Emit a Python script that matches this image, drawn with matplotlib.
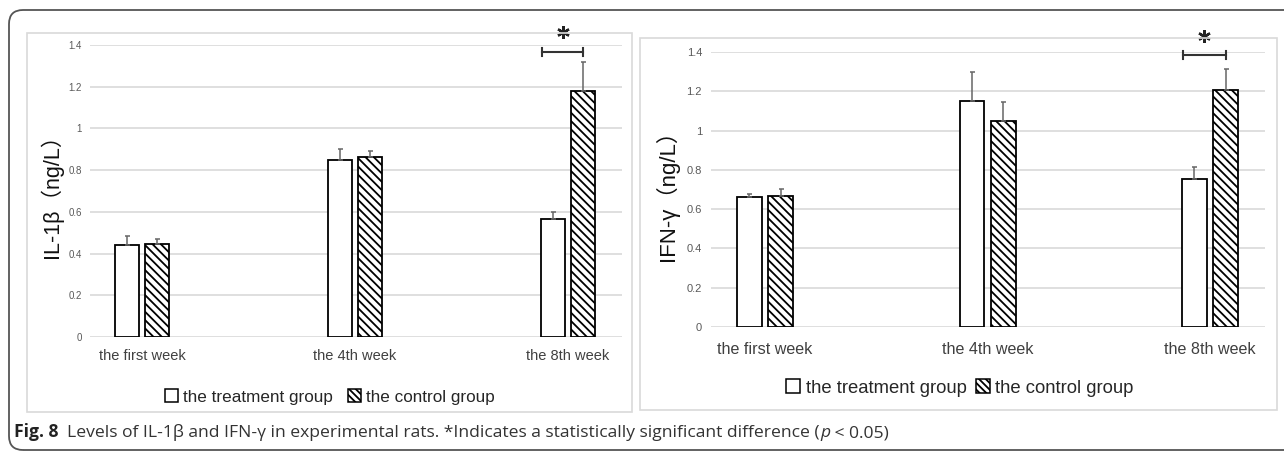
import matplotlib
matplotlib.use("Agg")
import matplotlib.pyplot as plt
from matplotlib.patches import Patch, Rectangle, FancyBboxPatch
from matplotlib.transforms import IdentityTransform
import numpy as np

W, H = 1284, 453

weeks = ['the first week', 'the 4th week', 'the 8th week']
yticks = [0, 0.2, 0.4, 0.6, 0.8, 1.0, 1.2, 1.4]
ytick_labels = ['0', '0.2', '0.4', '0.6', '0.8', '1', '1.2', '1.4']

il_treat = [0.44, 0.85, 0.565]
il_treat_err = [0.043, 0.052, 0.035]
il_ctrl = [0.445, 0.862, 1.178]
il_ctrl_err = [0.024, 0.03, 0.14]

ifn_treat = [0.662, 1.152, 0.755]
ifn_treat_err = [0.015, 0.147, 0.06]
ifn_ctrl = [0.667, 1.05, 1.207]
ifn_ctrl_err = [0.036, 0.097, 0.108]

plt.rcParams['font.family'] = ['Liberation Sans', 'Noto Sans CJK SC', 'DejaVu Sans']
plt.rcParams['hatch.linewidth'] = 1.3


def fx(x):
    return x / W


def fy(y):
    return 1 - y / H


def panel(rect, xlim, treat, terr, ctrl, cerr, ylabel, sizes, bracket_y):
    tick_size, cat_size, lab_size, cat_pad, tick_pad = sizes
    x0, ytop, x1, ybot = rect
    ax = fig.add_axes([fx(x0), fy(ybot), fx(x1 - x0), (ybot - ytop) / H])
    x = np.arange(len(weeks))
    w, off = 0.112, 0.07
    ax.bar(x - off, treat, w, color='white', edgecolor='black', linewidth=1.3, zorder=3)
    ax.bar(x + off, ctrl, w, color='white', edgecolor='black', linewidth=1.3,
           hatch='\\\\\\\\', zorder=3)
    for xs, v, e in [(x - off, treat, terr), (x + off, ctrl, cerr)]:
        ax.errorbar(xs, v, yerr=[np.zeros(len(e)), e], fmt='none', ecolor='#666666',
                    elinewidth=1.1, capsize=1.8, capthick=1.1, zorder=4)
    ax.set_xlim(*xlim)
    ax.set_ylim(0, 1.4)
    ax.set_yticks(yticks)
    ax.set_yticklabels(ytick_labels)
    ax.set_xticks(x)
    ax.set_xticklabels(weeks)
    ax.tick_params(axis='y', length=0, labelsize=tick_size, colors='#595959', pad=tick_pad)
    ax.tick_params(axis='x', length=0, labelsize=cat_size, colors='#404040', pad=cat_pad)
    ax.grid(axis='y', color='#d9d9d9', linewidth=1.2, zorder=0)
    ax.set_axisbelow(True)
    for s in ax.spines.values():
        s.set_visible(False)
    ax.set_ylabel(ylabel, fontsize=lab_size, color='#111111')
    # significance bracket over the 8th week pair
    bx0, bx1 = x[2] - off - 0.05, x[2] + off
    ax.plot([bx0, bx1], [bracket_y, bracket_y], color='#333333', lw=1.5, clip_on=False, zorder=5)
    for bx in (bx0, bx1):
        ax.plot([bx, bx], [bracket_y - 0.02, bracket_y + 0.02], color='#333333', lw=1.5,
                clip_on=False, zorder=5)
    ax.plot((bx0 + bx1) / 2, bracket_y + 0.095, marker=(6, 2, 0), markersize=9,
            markeredgewidth=1.7, color='#222222', clip_on=False, zorder=5)
    return ax


fig = plt.figure(figsize=(W / 100, H / 100), dpi=100)

# outer rounded frame and panel boxes
fig.patches.append(FancyBboxPatch((9, 3), 1330, 440, boxstyle='round,pad=0,rounding_size=14',
                                  transform=IdentityTransform(), fill=False,
                                  edgecolor='#555555', linewidth=1.3))
for bx0, by0, bx1, by1 in [(27, 33, 632, 412), (640, 38, 1277, 410)]:
    fig.patches.append(Rectangle((fx(bx0), fy(by1)), fx(bx1 - bx0), (by1 - by0) / H,
                                 transform=fig.transFigure, fill=False,
                                 edgecolor='#d9d9d9', linewidth=1.2))

ax1 = panel((90, 45, 622, 337), (-0.244, 2.254), il_treat, il_treat_err, il_ctrl, il_ctrl_err,
            'IL-1β（ng/L）', (7, 10.5, 15.5, 9, 6), 1.366)
ax1.yaxis.set_label_coords(-0.05, 0.5)
ax2 = panel((711, 52, 1265, 327), (-0.243, 2.247), ifn_treat, ifn_treat_err, ifn_ctrl,
            ifn_ctrl_err, 'IFN-γ（ng/L）', (8, 11.6, 16, 11, 6.5), 1.385)
ax2.yaxis.set_label_coords(-0.058, 0.5)

handles = [Patch(facecolor='white', edgecolor='black', linewidth=1.1),
           Patch(facecolor='white', edgecolor='black', linewidth=1.1, hatch='\\\\\\\\\\')]
names = ['the treatment group', 'the control group']
for cx, cy, size, colsp in [(330, 397, 12.3, 0.9), (960, 388, 13.3, 0.5)]:
    fig.legend(handles, names, loc='center', bbox_to_anchor=(fx(cx), fy(cy)), ncol=2,
               frameon=False, fontsize=size, handlelength=0.75, handleheight=0.75,
               handletextpad=0.3, columnspacing=colsp, labelcolor='#262626')

# caption with mixed styles
fig.canvas.draw()
renderer = fig.canvas.get_renderer()
cap_font = ['Open Sans', 'DejaVu Sans']
parts = [('Fig. 8', 'bold', 'normal', '#222222'),
         ('  Levels of IL-1β and IFN-γ in experimental rats. *Indicates a statistically '
          'significant difference (', 'normal', 'normal', '#333333'),
         ('p', 'normal', 'italic', '#333333'),
         (' < 0.05)', 'normal', 'normal', '#333333')]
xpos = 14
for txt, weight, style, col in parts:
    t = fig.text(fx(xpos), fy(437), txt, ha='left', va='baseline', fontsize=12.6,
                 fontweight=weight, fontstyle=style, color=col, family=cap_font)
    xpos = t.get_window_extent(renderer).x1

fig.savefig('out.png', dpi=100)
